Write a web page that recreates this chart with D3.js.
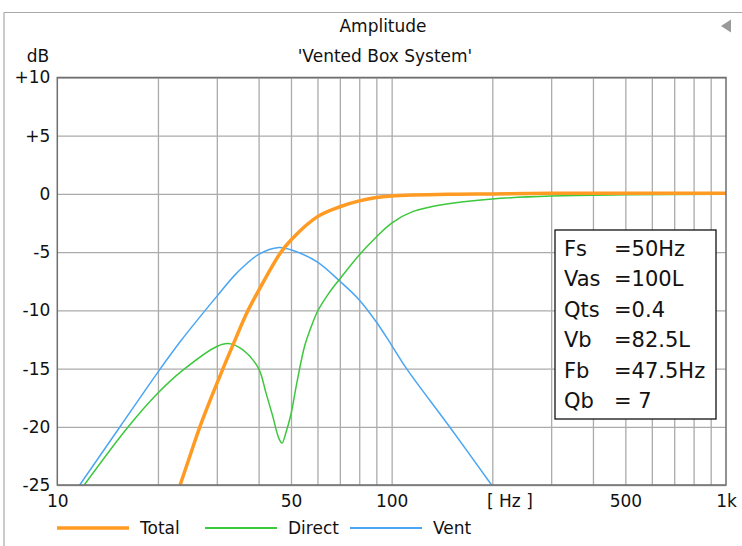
<!DOCTYPE html>
<html>
<head>
<meta charset="utf-8">
<script src="https://cdn.jsdelivr.net/npm/d3@7"></script>
<style>
  body { margin: 0; background: #fff; }
  text { font-family: "DejaVu Sans", sans-serif; fill: #111; }
</style>
</head>
<body>
<div id="chart"></div>
<script>
// Curve readings (frequency in Hz, level in dB)
var totalFreq = [23.3, 25.2, 26.7, 30, 33.6, 37.2, 40, 46.4, 50, 60, 70, 80, 90, 100, 150, 200, 300, 500, 1000];
var totalDb   = [-25, -22.1, -20, -16.3, -12.9, -10, -8.3, -5.1, -3.95, -1.95, -1.1, -0.6, -0.3, -0.17, -0.03, 0, 0.05, 0.05, 0.05];

var directFreq = [12.04, 16.3, 20, 23.6, 30, 32.5, 35.9, 40, 42, 44, 46, 47, 48.4, 50, 52, 55, 58, 60, 65, 70, 80, 90, 100, 116, 146, 200, 300, 500, 1000];
var directDb   = [-25, -20, -17.1, -15.2, -13.1, -12.85, -13.4, -15, -17, -19, -21, -21.4, -20.4, -18.9, -16.3, -13.0, -11.1, -10.1, -8.5, -7.3, -5.24, -3.7, -2.5, -1.5, -0.86, -0.43, -0.18, -0.08, -0.03];

var ventFreq = [11.67, 15.4, 20, 23.3, 27.7, 30, 34.4, 40, 46, 50, 60, 70, 80, 90, 100, 110.8, 149, 199];
var ventDb   = [-25, -20, -15.3, -12.7, -10, -8.8, -6.8, -5.2, -4.6, -4.8, -5.85, -7.5, -9.1, -11.0, -13.0, -15, -20, -25];

// Axis ticks
var yTicks = [10, 5, 0, -5, -10, -15, -20, -25];
var yTickLabels = ["+10", "+5", "0", "-5", "-10", "-15", "-20", "-25"];
var xGrid = [20, 30, 40, 50, 60, 70, 80, 90, 100, 200, 300, 400, 500, 600, 700, 800, 900];
var xTickVals = [10, 50, 100, 225, 500, 1000];
var xTickLabels = ["10", "50", "100", "[ Hz ]", "500", "1k"];

// Parameter box
var paramNames = ["Fs", "Vas", "Qts", "Vb", "Fb", "Qb"];
var paramValues = ["=50Hz", "=100L", "=0.4", "=82.5L", "=47.5Hz", "= 7"];

// Series
var seriesNames = ["Total", "Direct", "Vent"];
var seriesColors = ["#ff9a22", "#3cc83c", "#4aa6f4"];
var seriesWidths = [3.5, 1.5, 1.5];

var svgWidth = 742;
var svgHeight = 546;

var margin = { top: 77.5, bottom: 61, left: 57.3, right: 16 };
var width = svgWidth - margin.left - margin.right;
var height = svgHeight - margin.top - margin.bottom;

var svg = d3.select("#chart")
    .append("svg")
    .attr("width", svgWidth)
    .attr("height", svgHeight);

// Outer panel edges
svg.append("line")
    .attr("x1", 4).attr("x2", svgWidth).attr("y1", 12.5).attr("y2", 12.5)
    .attr("stroke", "#a8a8a8").attr("stroke-width", 1.2);
svg.append("line")
    .attr("x1", 4).attr("x2", 4).attr("y1", 12.5).attr("y2", svgHeight)
    .attr("stroke", "#a8a8a8").attr("stroke-width", 1.2);

// Little collapse arrow
svg.append("path")
    .attr("d", "M721,26 L731,19.5 L731,32.5 Z")
    .attr("fill", "#9a9a9a");

// Titles
svg.append("text")
    .attr("x", 383).attr("y", 32)
    .attr("text-anchor", "middle")
    .style("font-size", "17px")
    .text("Amplitude");

svg.append("text")
    .attr("x", 385).attr("y", 62)
    .attr("text-anchor", "middle")
    .style("font-size", "17px")
    .text("'Vented Box System'");

svg.append("text")
    .attr("x", 38).attr("y", 62)
    .attr("text-anchor", "middle")
    .style("font-size", "17px")
    .text("dB");

var chartGroup = svg.append("g")
    .attr("transform", `translate(${margin.left}, ${margin.top})`);

var xScale = d3.scaleLog()
    .domain([10, 1000])
    .range([0, width]);

var yScale = d3.scaleLinear()
    .domain([-25, 10])
    .range([height, 0]);

// Gridlines
chartGroup.append("g")
    .attr("class", "x-grid")
    .attr("transform", `translate(0, ${height})`)
    .call(d3.axisBottom(xScale).tickValues(xGrid).tickSize(-height).tickFormat(""))
    .call(g => g.select(".domain").remove())
    .call(g => g.selectAll("line").attr("stroke", "#ababab").attr("stroke-width", 1.3));

chartGroup.append("g")
    .attr("class", "y-grid")
    .call(d3.axisLeft(yScale).tickValues(yTicks).tickSize(-width).tickFormat((d, i) => yTickLabels[i]).tickPadding(7))
    .call(g => g.select(".domain").remove())
    .call(g => g.selectAll("line").attr("stroke", "#ababab").attr("stroke-width", 1.3))
    .call(g => g.selectAll("text").style("font-size", "17px").style("font-family", "DejaVu Sans").attr("fill", "#111"));

// X labels
chartGroup.append("g")
    .attr("class", "x-axis")
    .attr("transform", `translate(0, ${height})`)
    .call(d3.axisBottom(xScale).tickValues(xTickVals).tickSize(0).tickPadding(10).tickFormat((d, i) => xTickLabels[i]))
    .call(g => g.select(".domain").remove())
    .call(g => g.selectAll("text").style("font-size", "17px").style("font-family", "DejaVu Sans").attr("fill", "#111"));

// Clip for curves
chartGroup.append("clipPath")
    .attr("id", "plot-clip")
    .append("rect")
    .attr("width", width)
    .attr("height", height);

var line = d3.line()
    .x(d => xScale(d[0]))
    .y(d => yScale(d[1]))
    .curve(d3.curveCatmullRom.alpha(0.5));

var seriesData = [
    d3.zip(totalFreq, totalDb),
    d3.zip(directFreq, directDb),
    d3.zip(ventFreq, ventDb)
];

// Draw vent and direct first, total on top
[2, 1, 0].forEach(function(i) {
    chartGroup.append("path")
        .datum(seriesData[i])
        .attr("clip-path", "url(#plot-clip)")
        .attr("fill", "none")
        .attr("stroke", seriesColors[i])
        .attr("stroke-width", seriesWidths[i])
        .attr("d", line);
});

// Plot frame
chartGroup.append("rect")
    .attr("width", width)
    .attr("height", height)
    .attr("fill", "none")
    .attr("stroke", "#6e6e6e")
    .attr("stroke-width", 1.5);

// Parameter box
var boxGroup = svg.append("g")
    .attr("transform", "translate(555, 230)");

boxGroup.append("rect")
    .attr("width", 161)
    .attr("height", 189)
    .attr("fill", "#fff")
    .attr("stroke", "#111")
    .attr("stroke-width", 1.3);

boxGroup.selectAll(".pname")
    .data(paramNames)
    .enter()
    .append("text")
    .attr("class", "pname")
    .attr("x", 9)
    .attr("y", (d, i) => 26 + i * 30.4)
    .style("font-size", "21px")
    .text(d => d);

boxGroup.selectAll(".pval")
    .data(paramValues)
    .enter()
    .append("text")
    .attr("class", "pval")
    .attr("x", 59)
    .attr("y", (d, i) => 26 + i * 30.4)
    .style("font-size", "21px")
    .text(d => d);

// Legend
var legendX = [57, 205, 350];
var legendGroup = svg.append("g")
    .attr("transform", "translate(0, 528)");

seriesNames.forEach(function(name, i) {
    legendGroup.append("line")
        .attr("x1", legendX[i]).attr("x2", legendX[i] + 72)
        .attr("y1", 0).attr("y2", 0)
        .attr("stroke", seriesColors[i])
        .attr("stroke-width", seriesWidths[i] === 3.5 ? 3.5 : 2);
    legendGroup.append("text")
        .attr("x", legendX[i] + 83)
        .attr("y", 6)
        .style("font-size", "17px")
        .text(name);
});
</script>
</body>
</html>
